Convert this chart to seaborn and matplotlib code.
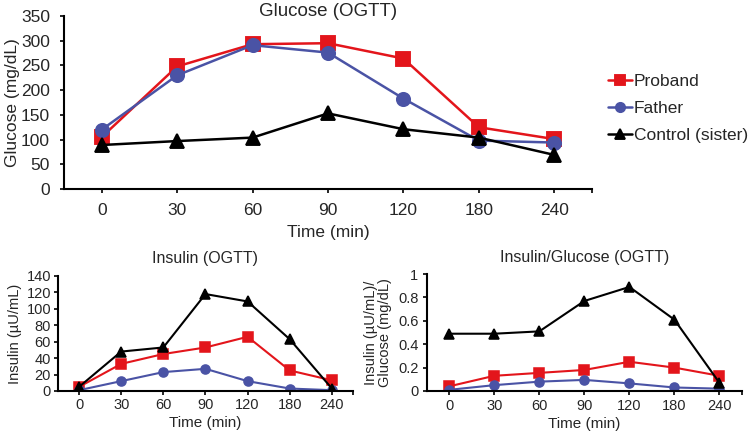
import pandas as pd
import seaborn as sns
import matplotlib.pyplot as plt

# Values
times = ["0", "30", "60", "90", "120", "180", "240"]
groups = ["Proband", "Father", "Control (sister)"]

glucose_proband = [105, 248, 293, 295, 264, 125, 101]
glucose_father = [120, 230, 291, 276, 183, 98, 94]
glucose_control = [89, 97, 104, 153, 121, 104, 69]

insulin_proband = [5, 33, 45, 53, 66, 25, 13]
insulin_father = [1, 12, 23, 27, 12, 3, 1]
insulin_control = [5, 48, 53, 118, 109, 63, 3]

ratio_proband = [0.04, 0.13, 0.155, 0.18, 0.25, 0.20, 0.13]
ratio_father = [0.01, 0.05, 0.08, 0.095, 0.065, 0.03, 0.02]
ratio_control = [0.49, 0.49, 0.51, 0.77, 0.89, 0.61, 0.07]

colors = ["#e3151b", "#4a53a5", "#000000"]
markers = ["s", "o", "^"]


def make_df(a, b, c):
    df = pd.DataFrame({"Time": times, groups[0]: a, groups[1]: b, groups[2]: c})
    return df.melt(id_vars="Time", var_name="Group", value_name="Value")


sns.set_style("ticks")
plt.rcParams["font.family"] = ["Liberation Sans", "DejaVu Sans"]

fig = plt.figure(figsize=(7.5, 4.33), dpi=100)
ax1 = fig.add_axes([0.0853, 0.5635, 0.704, 0.3995])
ax2 = fig.add_axes([0.0773, 0.097, 0.3933, 0.2656])
ax3 = fig.add_axes([0.569, 0.097, 0.4203, 0.270])


def draw(ax, df, big):
    sns.pointplot(data=df, x="Time", y="Value", hue="Group", order=times,
                  hue_order=groups, palette=colors, markers=markers,
                  linestyles=["-", "-", "-"], errorbar=None,
                  markersize=9.5 if big else 6.5,
                  linewidth=1.8 if big else 1.5,
                  legend=big, ax=ax)
    ax.set_xlim(-0.5, 6.5)
    ax.set_xticks([6.5], minor=True)
    ax.tick_params(which="both", length=3, width=1.2, color="black")
    for s in ["top", "right"]:
        ax.spines[s].set_visible(False)
    for s in ["left", "bottom"]:
        ax.spines[s].set_linewidth(1.5)
        ax.spines[s].set_color("black")


draw(ax1, make_df(glucose_proband, glucose_father, glucose_control), True)
ax1.set_ylim(0, 350)
ax1.set_yticks(range(0, 351, 50))
ax1.tick_params(labelsize=12.5, pad=7)
ax1.set_xlabel("Time (min)", fontsize=12.5, labelpad=5)
ax1.set_ylabel("Glucose (mg/dL)", fontsize=12.5, labelpad=1)
fig.text(0.437, 1 - 11 / 433, "Glucose (OGTT)", fontsize=13.5,
         ha="center", va="center")
sns.move_legend(ax1, "upper left", bbox_to_anchor=(1.03, 0.665), frameon=False,
                title=None, fontsize=12.5, handlelength=1.4, handletextpad=0.1,
                labelspacing=0.67, borderaxespad=0, borderpad=0,
                markerscale=0.7)

draw(ax2, make_df(insulin_proband, insulin_father, insulin_control), False)
ax2.set_ylim(0, 140)
ax2.set_yticks(range(0, 141, 20))
ax2.tick_params(labelsize=10.5, pad=2)
ax2.set_title("Insulin (OGTT)", fontsize=11.5, pad=9)
ax2.set_xlabel("Time (min)", fontsize=11, labelpad=3)
ax2.set_ylabel("Insulin (\u00b5U/mL)", fontsize=10.5, labelpad=3)

draw(ax3, make_df(ratio_proband, ratio_father, ratio_control), False)
ax3.set_ylim(0, 1)
ax3.set_yticks([0, 0.2, 0.4, 0.6, 0.8, 1])
ax3.set_yticklabels(["0", "0.2", "0.4", "0.6", "0.8", "1"])
ax3.tick_params(labelsize=10.5, pad=3)
ax3.set_title("Insulin/Glucose (OGTT)", fontsize=11.5, pad=9)
ax3.set_xlabel("Time (min)", fontsize=11, labelpad=3)
ax3.set_ylabel("Insulin (\u00b5U/mL)/\nGlucose (mg/dL)", fontsize=10.5,
               labelpad=4, linespacing=1.0)

fig.savefig("out.png", dpi=100)
